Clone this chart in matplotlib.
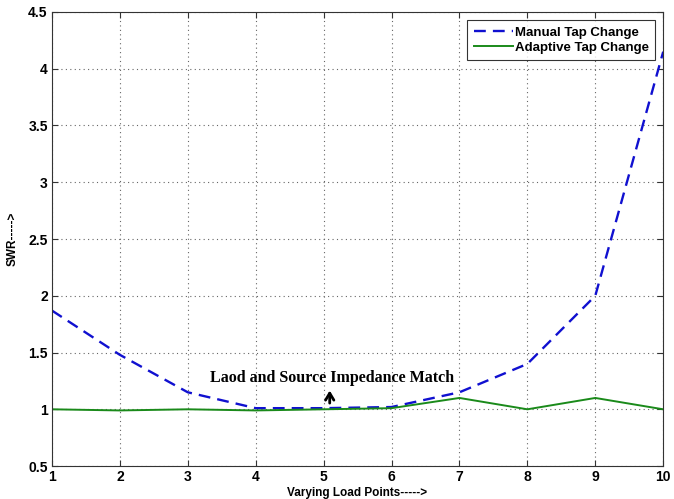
import matplotlib
matplotlib.use("Agg")
import matplotlib.pyplot as plt

x = [1, 2, 3, 4, 5, 6, 7, 8, 9, 10]
manual = [1.87, 1.48, 1.15, 1.01, 1.01, 1.02, 1.15, 1.40, 2.00, 4.15]
adaptive = [1.00, 0.99, 1.00, 0.99, 1.00, 1.01, 1.10, 1.00, 1.10, 1.00]
yticks = [0.5, 1, 1.5, 2, 2.5, 3, 3.5, 4, 4.5]
ytick_labels = ["0.5", "1", "1.5", "2", "2.5", "3", "3.5", "4", "4.5"]

plt.rcParams['font.family'] = ['Liberation Sans', 'DejaVu Sans']
fig = plt.figure(figsize=(6.74, 4.99), dpi=100)
ax = fig.add_axes([0.077, 0.066, 0.907, 0.910])

ax.plot(x, manual, color='#1010d0', linestyle=(0, (5, 3)), linewidth=1.7, label='Manual Tap Change')
ax.plot(x, adaptive, color='#1a8a1a', linestyle='-', linewidth=1.4, label='Adaptive Tap Change')

ax.set_xlim(1, 10)
ax.set_ylim(0.5, 4.5)
ax.set_xticks(x)
ax.set_xticklabels([str(v) for v in x], fontweight='bold', fontsize=10)
ax.set_yticks(yticks)
ax.set_yticklabels(ytick_labels, fontweight='bold', fontsize=10)
ax.tick_params(direction='in', length=4, color='#333333', top=True, right=True, pad=3)
ax.grid(True, linestyle=(0, (1, 3)), color='#666666', linewidth=0.8)
for s in ax.spines.values():
    s.set_color('#333333')

ax.set_xlabel('Varying Load Points----->', fontsize=8.5, fontweight='bold', labelpad=2)
ax.set_ylabel('SWR----->', fontsize=8.5, fontweight='bold', labelpad=7)

ax.text(3.33, 1.275, 'Laod and Source Impedance Match', family=['Liberation Serif', 'DejaVu Serif'],
        fontsize=11.5, fontweight='bold', va='center', ha='left')
ax.annotate('', xy=(5.09, 1.19), xytext=(5.09, 1.03),
            arrowprops=dict(arrowstyle='->,head_length=0.5,head_width=0.3', color='black', lw=2))

leg = ax.legend(loc='upper right', fontsize=9.5, frameon=True, fancybox=False,
                edgecolor='black', handlelength=3, borderpad=0.5, labelspacing=0.2,
                handletextpad=0.1, borderaxespad=0.6)
for t in leg.get_texts():
    t.set_fontweight('bold')
leg.get_frame().set_linewidth(0.8)

fig.savefig('out.png', dpi=100)
